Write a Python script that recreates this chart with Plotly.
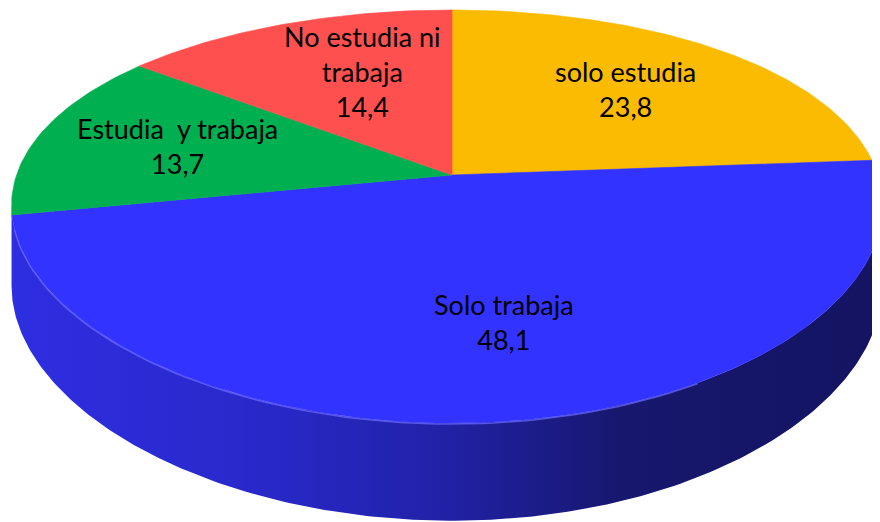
import numpy as np
import plotly.graph_objects as go

# ---- data ----
categories = ["solo estudia", "Solo trabaja", "Estudia  y trabaja", "No estudia ni trabaja"]
label_lines = [["solo estudia"], ["Solo trabaja"], ["Estudia  y trabaja"], ["No estudia ni", "trabaja"]]
values = [23.8, 48.1, 13.7, 14.4]
colors = ["#FBBB00", "#3333FF", "#00B050", "#FF5050"]
label_xshift = [-3, 10, -7, 23]

# ---- 3D pie geometry (pixel space) ----
W, H = 880, 522
PAGE_MARGIN = 8            # default body margin of the html page
CX, CY = 452, 175          # projected pie centre
AX, BY = 430.6, 198.2      # horizontal / vertical radii
KX, KU = 0.149, 0.0112     # horizontal perspective terms
KY = 0.201                 # vertical perspective term
D = 78                     # thickness


def proj(theta_deg, r=1.0, depth=0.0):
    t = np.radians(theta_deg)
    u, v = r * np.sin(t), r * np.cos(t)
    fx = 1.0 / (1.0 + KX * v + KU * u)
    fy = 1.0 / (1.0 + KY * v)
    return CX + AX * u * fx, CY - BY * v * fy + depth * fy


fig = go.Figure()

# side wall (visible front part, from right silhouette to left silhouette)
dense = np.linspace(0, 360, 3601)
dx, _ = proj(dense)
s1 = dense[np.argmax(dx)]
s2 = dense[np.argmin(dx)]
th = np.linspace(s1, s2, 240)
xt, yt = proj(th)
xb, yb = proj(th[::-1], depth=D)
fig.add_trace(go.Scatter(
    x=np.concatenate([xt, xb, xt[:1]]), y=np.concatenate([yt, yb, yt[:1]]),
    mode="lines", fill="toself", line=dict(width=0, color="#1c1c90"),
    fillgradient=dict(type="horizontal",
                      colorscale=[[0, "#2e2ee2"], [0.3, "#2828c8"], [0.5, "#2121a6"],
                                  [0.7, "#17176e"], [1, "#141462"]]),
    hoverinfo="skip", showlegend=False))

# top faces
total = sum(values)
start = 0.0
mids = []
for val, col in zip(values, colors):
    a0 = start / total * 360
    a1 = (start + val) / total * 360
    th = np.linspace(a0, a1, max(int(val * 4), 20))
    xs, ys = proj(th)
    fig.add_trace(go.Scatter(
        x=np.concatenate([[CX], xs, [CX]]), y=np.concatenate([[CY], ys, [CY]]),
        mode="lines", fill="toself", fillcolor=col,
        line=dict(width=0.6, color=col), hoverinfo="skip", showlegend=False))
    mids.append((a0 + a1) / 2)
    start += val

# rim highlight on the front edge
th = np.linspace(150, 255, 80)
xh, yh = proj(th)
fig.add_trace(go.Scatter(x=xh, y=yh + 1, mode="lines",
                         line=dict(width=1.5, color="rgba(110,110,255,0.7)"),
                         hoverinfo="skip", showlegend=False))

# labels
for lines, val, mid, xs in zip(label_lines, values, mids, label_xshift):
    lx, ly = proj(mid, r=0.65)
    txt = "<br>".join(lines + [f"{val:.1f}".replace(".", ",")])
    fig.add_annotation(x=lx, y=ly, text=txt, showarrow=False, xshift=xs,
                       font=dict(family="Lato", size=27, color="#000000"),
                       align="center")

fig.update_layout(
    width=W - PAGE_MARGIN, height=H - PAGE_MARGIN, margin=dict(l=0, r=0, t=0, b=0),
    paper_bgcolor="white", plot_bgcolor="white",
    xaxis=dict(range=[PAGE_MARGIN, W], visible=False, fixedrange=True),
    yaxis=dict(range=[H, PAGE_MARGIN], visible=False, fixedrange=True),
    showlegend=False,
)
fig.write_html("out.html")
